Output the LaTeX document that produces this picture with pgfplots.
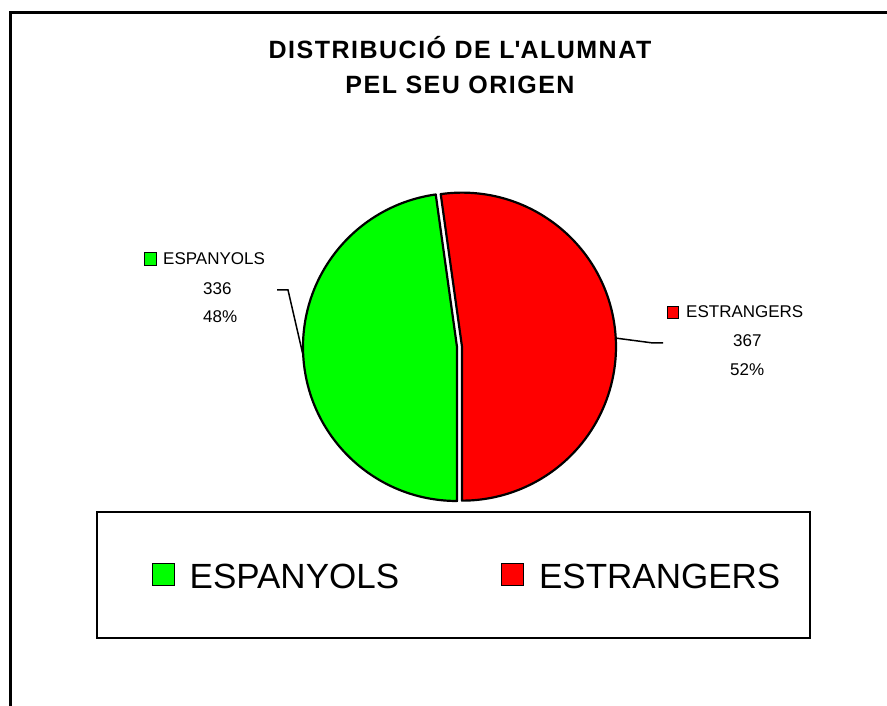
\documentclass[border=0pt]{standalone}
\usepackage{fontspec}
\setmainfont{Liberation Sans}
\usepackage{pgfplots}
\usepackage{pgfplotstable}
\pgfplotsset{compat=1.18}

\definecolor{verd}{RGB}{0,255,0}
\definecolor{vermell}{RGB}{255,0,0}

% alumnat per origen
\pgfplotstableread{
origen valor
ESPANYOLS 336
ESTRANGERS 367
}\dades
\pgfplotstablegetelem{0}{valor}\of\dades \edef\vA{\pgfplotsretval}
\pgfplotstablegetelem{1}{valor}\of\dades \edef\vB{\pgfplotsretval}
\pgfmathsetmacro\total{\vA+\vB}
\pgfmathsetmacro\frac{\vA/\total}
\pgfmathsetmacro\angA{360*\frac}
\pgfmathsetmacro\tall{270-\angA}
\pgfmathsetmacro\mig{(\tall-90)/2}
\pgfmathsetmacro\rx{457+5*cos(\mig)}
\pgfmathsetmacro\ry{359+5*sin(\mig)}
\pgfmathtruncatemacro\pA{round(100*\frac)}
\pgfmathtruncatemacro\pB{100-\pA}

\begin{document}
\begin{tikzpicture}
\begin{axis}[
    at={(0,0)}, anchor=origin,
    width=887pt, height=706pt,
    scale only axis,
    hide axis,
    xtick=\empty, ytick=\empty,
    clip=false,
    xmin=0, xmax=887,
    ymin=0, ymax=706,
    legend style={at={(axis cs:151.5,129.5)}, anchor=west,
        draw=none, fill=none, inner sep=0pt,
        font=\fontsize{35}{42}\selectfont,
        legend columns=2, legend cell align=left,
        /tikz/every odd column/.append style={column sep=15pt},
        /tikz/every even column/.append style={column sep=102pt},
        nodes={inner sep=0pt}},
    legend image code/.code={\draw[#1, line width=1pt] (0pt,-9pt) rectangle (22pt,13pt);},
]
% marc
\draw[line width=3pt] (axis cs:10,0) -- (axis cs:10,693) -- (axis cs:887,693);

% titol
\node[anchor=base, font=\bfseries\fontsize{25}{30}\selectfont\addfontfeatures{LetterSpace=6}] at (axis cs:460,647) {DISTRIBUCIÓ DE L\textquotesingle ALUMNAT};
\node[anchor=base, font=\bfseries\fontsize{25}{30}\selectfont\addfontfeatures{LetterSpace=6}] at (axis cs:460,612) {PEL SEU ORIGEN};

% sectors
\draw[fill=verd, line width=2.2pt, line join=round] (axis cs:457,359) -- ++(270:154pt) arc[start angle=270, end angle=\tall, radius=154pt] -- cycle;
\draw[fill=vermell, line width=2.2pt, line join=round] (axis cs:\rx,\ry) -- ++(\tall:154pt) arc[start angle=\tall, end angle=-90, radius=154pt] -- cycle;

% linies guia
\draw[line width=1.5pt] (axis cs:277,416) -- (axis cs:288,416) -- (axis cs:303,351);
\draw[line width=1.5pt] (axis cs:615,368) -- (axis cs:653,363) -- (axis cs:663,363);

% etiquetes
\draw[fill=verd, line width=1pt] (axis cs:144,440) rectangle (axis cs:156,453);
\node[anchor=base west, inner sep=0pt, font=\fontsize{17}{20}\selectfont] at (axis cs:163,441) {ESPANYOLS};
\node[anchor=base west, inner sep=0pt, font=\fontsize{17}{20}\selectfont] at (axis cs:203,411) {\vA};
\node[anchor=base west, inner sep=0pt, font=\fontsize{17}{20}\selectfont] at (axis cs:203,383) {\pA\%};

\draw[fill=vermell, line width=1pt] (axis cs:667,387) rectangle (axis cs:678,399);
\node[anchor=base west, inner sep=0pt, font=\fontsize{17}{20}\selectfont] at (axis cs:686,388) {ESTRANGERS};
\node[anchor=base west, inner sep=0pt, font=\fontsize{17}{20}\selectfont] at (axis cs:733,359) {\vB};
\node[anchor=base west, inner sep=0pt, font=\fontsize{17}{20}\selectfont] at (axis cs:730,330) {\pB\%};

% llegenda
\draw[line width=2pt] (axis cs:97,68) rectangle (axis cs:810,194);
\addlegendimage{fill=verd, draw=black}
\addlegendentry{ESPANYOLS}
\addlegendimage{fill=vermell, draw=black}
\addlegendentry{ESTRANGERS}
\end{axis}
\pgfresetboundingbox
\path (0,0) rectangle (887pt,706pt);
\end{tikzpicture}
\end{document}
